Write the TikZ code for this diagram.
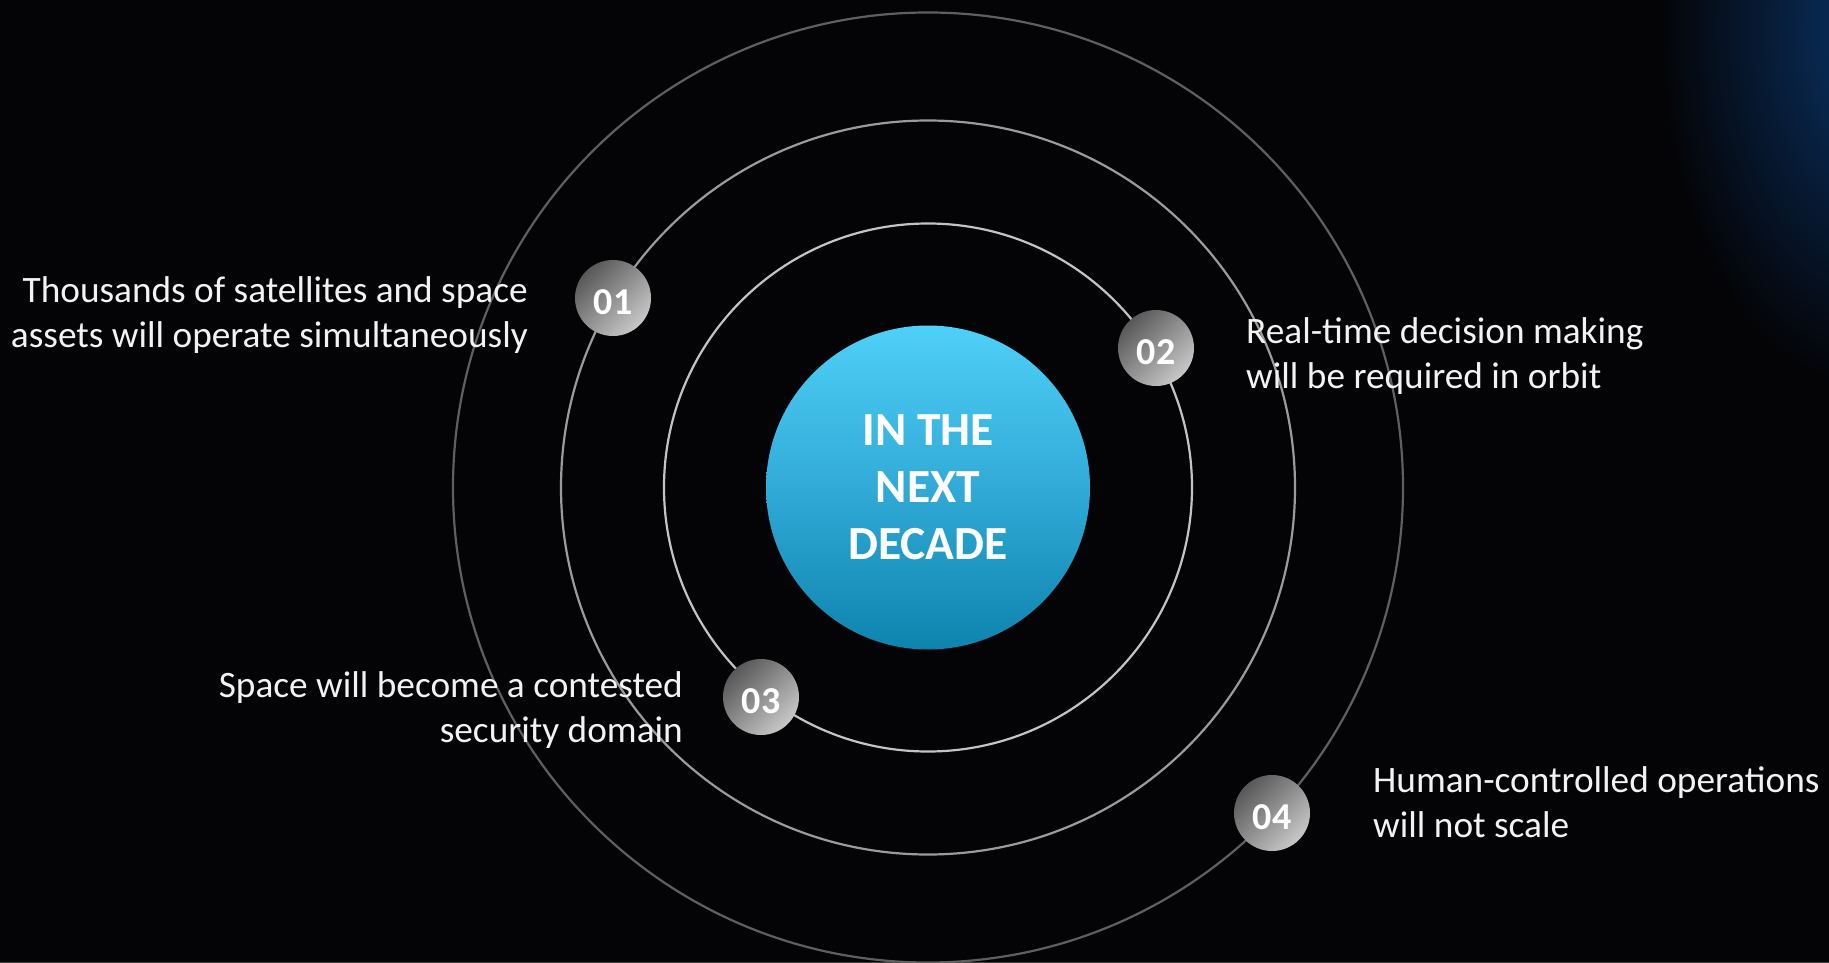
\documentclass[tikz,border=0pt]{standalone}
\usepackage{fontspec}
\setmainfont{Carlito}
\definecolor{bg}{RGB}{4,4,7}
\definecolor{glow}{RGB}{10,52,104}
\definecolor{coretop}{RGB}{78,208,248}
\definecolor{coremid}{RGB}{50,170,215}
\definecolor{corebot}{RGB}{12,132,174}
\definecolor{ringA}{RGB}{195,195,195}
\definecolor{ringB}{RGB}{155,155,155}
\definecolor{ringC}{RGB}{95,95,95}
\definecolor{badgedark}{RGB}{88,88,88}
\definecolor{badgelight}{RGB}{200,200,200}
\definecolor{txt}{RGB}{242,242,242}
\tikzset{
  ringstyle/.style={line width=2.2pt},
  core/.style={circle, inner sep=0pt, minimum size=324pt, top color=coretop, bottom color=corebot, middle color=coremid, text=white, align=center, font=\fontsize{47.5}{57}\selectfont\bfseries},
  badge/.style={circle, inner sep=0pt, minimum size=76pt, top color=badgedark, bottom color=badgelight, shading angle=45, text=white, text height=33pt, text depth=0pt, font=\fontsize{38}{40}\selectfont\bfseries},
  lbl/.style={inner sep=0pt, text=txt, font=\fontsize{37.3}{45}\selectfont}
}
\begin{document}
\begin{tikzpicture}[x=1pt,y=-1pt]
\fill[bg] (0,0) rectangle (1829,963);
\useasboundingbox (0,0) rectangle (1829,963);
\begin{scope}
\clip (0,0) rectangle (1829,963);
\shade[inner color=glow, outer color=bg] (1880,30) ellipse [x radius=220, y radius=360];
\end{scope}
\draw[color=black!75!white, line width=1pt] (0,962.5) -- (1829,962.5);
\coordinate (c) at (928,487.5);
\draw[ringstyle, ringA] (c) circle [radius=264];
\draw[ringstyle, ringB] (c) circle [radius=367];
\draw[ringstyle, ringC] (c) circle [radius=475];
\node[core] (core) at (c) {IN THE\\NEXT\\DECADE};
\node[badge] (b1) at (613,298) {01};
\node[badge] (b2) at (1156,348) {02};
\node[badge] (b3) at (761,697) {03};
\node[badge] (b4) at (1272,813) {04};
\node[lbl, anchor=base east, align=right] (t1) at (528,347) {Thousands of satellites and space\\assets will operate simultaneously};
\node[lbl, anchor=base west, align=left] (t2) at (1246,388.5) {Real-time decision making\\will be required in orbit};
\node[lbl, anchor=base east, align=right] (t3) at (683,742) {Space will become a contested\\security domain};
\node[lbl, anchor=base west, align=left] (t4) at (1373,837) {Human-controlled operations\\will not scale};
\end{tikzpicture}
\end{document}
